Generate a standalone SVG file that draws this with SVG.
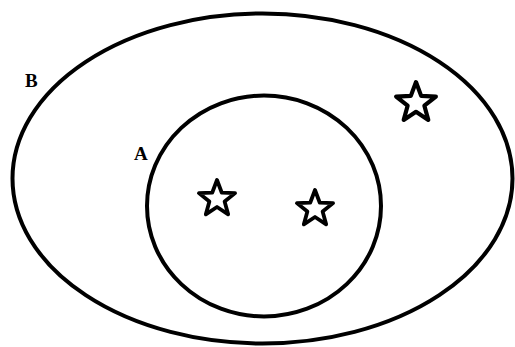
<svg xmlns="http://www.w3.org/2000/svg" width="515" height="347" viewBox="0 0 515 347">
<style>
.set{fill:none;stroke:#000;stroke-width:4}
.star{fill:#fff;stroke:#000;stroke-width:3.8;stroke-linejoin:round}
.lbl{font-family:"Liberation Serif",serif;font-weight:bold;font-size:19px;fill:#000}
</style>
<defs>
<polygon id="star" points="0,-19 4.7,-6.47 18.07,-5.87 7.61,2.47 11.17,15.37 0,8 -11.17,15.37 -7.61,2.47 -18.07,-5.87 -4.7,-6.47"/>
</defs>
<rect width="515" height="347" fill="#fff"/>
<g id="setB">
<ellipse class="set" cx="262.5" cy="178.5" rx="250" ry="165"/>
<text class="lbl" x="25" y="87">B</text>
</g>
<g id="setA">
<ellipse class="set" cx="264" cy="206" rx="117" ry="110.5"/>
<text class="lbl" x="134" y="160">A</text>
</g>
<g id="star1"><use href="#star" class="star" transform="translate(217,199)"/></g>
<g id="star2"><use href="#star" class="star" transform="translate(315,209)"/></g>
<g id="star3"><use href="#star" class="star" transform="translate(416,103) scale(1.1)"/></g>
<g id="connectors"></g>
</svg>
